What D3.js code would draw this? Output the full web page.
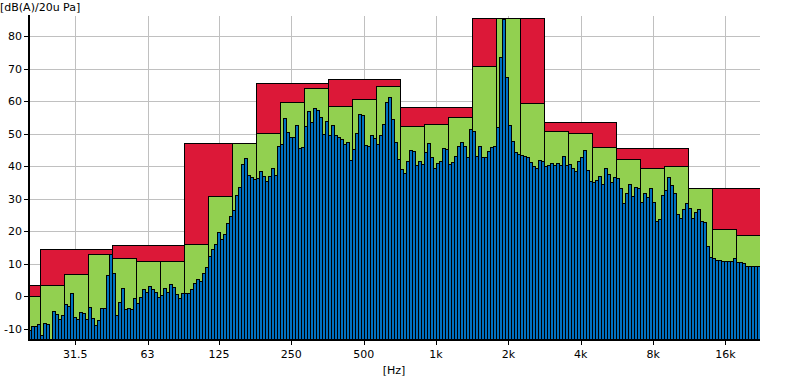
<!DOCTYPE html>
<html><head><meta charset="utf-8">
<script src="https://cdn.jsdelivr.net/npm/d3@7"></script>
<style>body{margin:0;background:#fff}svg{display:block}text{font-family:"DejaVu Sans",sans-serif;font-size:11px;fill:#000}</style>
</head><body>
<script>
// Octave bands (dB(A)), nominal centres 16 Hz .. 16 kHz
const octaveLabels = ["16","31.5","63","125","250","500","1k","2k","4k","8k","16k"];
const octaveValues = [3.4,14.6,15.7,47.1,65.5,66.8,58.2,85.5,53.7,45.5,33.4];
// Third-octave bands, 20 Hz .. 20 kHz
const thirdLabels = ["20","25","31.5","40","50","63","80","100","125","160","200","250","315","400","500","630","800","1k","1.25k","1.6k","2k","2.5k","3.15k","4k","5k","6.3k","8k","10k","12.5k","16k","20k"];
const thirdValues = [0,3.4,6.8,13.1,11.7,10.8,10.8,16.0,30.8,47.1,50.2,59.7,64.0,58.5,60.6,64.6,52.3,52.9,55.1,70.8,85.5,59.4,50.8,50.2,45.8,42.2,39.4,40.0,33.2,20.6,18.8];
// 1/24-octave bands from 20 Hz upward
const narrowValues = [
-10.4,-9.2,-9.2,-8.6,-12.0,-8.3,-8.6,-14,-4.5,-5.5,-6.8,-5.8,-2.4,-2.8,0.9,-6.2,-6.8,-4.9,-5.2,-6.8,
-3.4,-6.5,-8.9,-7.1,-3.7,-3.7,6.5,12.9,7.1,-5.8,-1.8,2.5,-4.0,-3.7,-4.0,-0.6,-2.1,-0.3,2.2,1.5,
3.1,2.2,1.5,-0.3,0.3,2.5,1.5,3.7,2.8,0.6,-0.6,1.2,1.2,1.2,2.2,4.0,5.4,4.6,7.1,8.9,
12.3,14.5,16.0,19.7,17.8,19.1,22.5,24.6,26.5,31.1,33.6,40.6,42.5,37.2,36.6,36.0,36.3,38.5,36.9,35.4,
36.9,39.4,37.2,46.2,46.8,54.8,50.5,48.9,48.9,52.6,45.5,45.8,52.3,56.9,53.5,57.8,57.2,55.1,49.8,53.8,
49.5,52.6,49.5,48.9,48.3,46.8,47.4,41.8,45.2,50.2,56.0,55.7,46.5,46.2,49.5,48.6,46.8,49.5,52.9,59.7,
61.2,54.5,47.4,42.2,39.1,37.8,41.5,44.9,44.6,40.3,41.5,40.6,44.3,47.1,42.8,39.4,40.9,41.5,45.5,45.2,
40.6,41.2,43.1,46.2,47.4,46.2,42.8,51.4,50.8,43.1,46.2,42.8,42.8,44.6,45.8,46.2,52.0,73.5,85.2,67.4,
52.6,47.7,44.3,43.7,43.4,43.1,42.8,41.2,40.0,39.4,41.8,41.5,40.0,40.3,40.9,40.3,40.9,40.3,43.1,40.3,
40.6,39.4,38.5,41.5,42.8,44.9,38.8,35.4,35.1,35.7,36.9,34.5,39.4,37.5,35.1,36.6,36.3,33.2,28.6,31.7,
34.5,30.8,33.5,33.2,28.9,31.7,30.5,33.2,28.9,23.1,23.7,31.1,32.6,36.6,34.2,31.7,25.2,24.0,26.8,28.6,
27.1,24.0,25.8,26.8,23.1,22.8,15.5,12.0,11.7,11.1,11.1,10.8,10.8,10.8,10.8,11.7,10.5,10.5,10.2,9.5,
9.5,9.5,9.2,9.2];
const xTickFreqs = [31.5,63,125,250,500,1000,2000,4000,8000,16000];
const xTickLabels = ["31.5","63","125","250","500","1k","2k","4k","8k","16k"];
const yTicks = [-10,0,10,20,30,40,50,60,70,80];

const W = 790, H = 377;
const L = 28.5, R = 760, T = 16, B = 340;
const fMin = Math.pow(10,1.3), fMax = Math.pow(10,4.35);

const svg = d3.select("body").append("svg").attr("width",W).attr("height",H);
const x = d3.scaleLog().domain([fMin,fMax]).range([27.5,760.5]);
const y = d3.scaleLinear().domain([-13.4,86.2]).range([B,T]);

svg.append("clipPath").attr("id","plot").append("rect")
  .attr("x",L).attr("y",T).attr("width",R-L).attr("height",B-T);

// grid
const grid = svg.append("g").attr("stroke","#c0c0c0").attr("stroke-width",1).attr("shape-rendering","crispEdges");
grid.selectAll(".gy").data(yTicks).join("line")
  .attr("x1",L).attr("x2",R).attr("y1",d=>Math.round(y(d))+0.5).attr("y2",d=>Math.round(y(d))+0.5);
grid.selectAll(".gx").data(xTickFreqs).join("line")
  .attr("y1",T).attr("y2",B).attr("x1",d=>Math.round(x(d))+0.5).attr("x2",d=>Math.round(x(d))+0.5);

const clamp = v => Math.max(1.3, Math.min(4.35, v));
const octBands = octaveValues.map((v,j)=>({lo:clamp(1.2+0.3*j-0.15), hi:clamp(1.2+0.3*j+0.15), v}));
const thirdBands = thirdValues.map((v,i)=>({lo:clamp(1.3+0.1*i-0.05), hi:clamp(1.3+0.1*i+0.05), v}));
const narrowBands = narrowValues.map((v,i)=>({lo:(104+i)/80, hi:(105+i)/80, v}));

const plot = svg.append("g").attr("clip-path","url(#plot)");
const px = l => Math.round(x(Math.pow(10,l)));
function drawBands(data, fill){
  plot.append("g").attr("shape-rendering","crispEdges").selectAll("rect").data(data).join("rect")
    .attr("x",d=>px(d.lo)+0.5)
    .attr("width",d=>px(d.hi)-px(d.lo))
    .attr("y",d=>Math.round(y(d.v))+0.5)
    .attr("height",d=>Math.max(0,B+5-Math.round(y(d.v))))
    .attr("fill",fill).attr("stroke","#000").attr("stroke-width",1);
}
drawBands(octBands,"#dc1838");
drawBands(thirdBands,"#92d050");
drawBands(narrowBands,"#0070c0");

// axes
const ax = svg.append("g").attr("shape-rendering","crispEdges");
ax.append("line").attr("x1",28.5).attr("x2",28.5).attr("y1",T-1).attr("y2",B+1).attr("stroke","#000").attr("stroke-width",2);
ax.append("line").attr("x1",27.5).attr("x2",R).attr("y1",339.5).attr("y2",339.5).attr("stroke","#000").attr("stroke-width",2);
ax.selectAll(".ty").data(yTicks).join("line")
  .attr("x1",24).attr("x2",28).attr("y1",d=>Math.round(y(d))+0.5).attr("y2",d=>Math.round(y(d))+0.5)
  .attr("stroke","#000");
ax.selectAll(".ly").data(yTicks).join("text")
  .attr("x",22).attr("y",d=>y(d)+4).attr("text-anchor","end").text(d=>d);
ax.selectAll(".tx").data(xTickFreqs).join("line")
  .attr("x1",d=>Math.round(x(d))+0.5).attr("x2",d=>Math.round(x(d))+0.5).attr("y1",340).attr("y2",345)
  .attr("stroke","#000");
ax.selectAll(".lx").data(xTickFreqs).join("text")
  .attr("x",d=>x(d)).attr("y",358).attr("text-anchor","middle").text((d,i)=>xTickLabels[i]);
svg.append("text").attr("x",0).attr("y",11).text("[dB(A)/20u Pa]");
svg.append("text").attr("x",394).attr("y",374).attr("text-anchor","middle").text("[Hz]");
</script>
</body></html>
